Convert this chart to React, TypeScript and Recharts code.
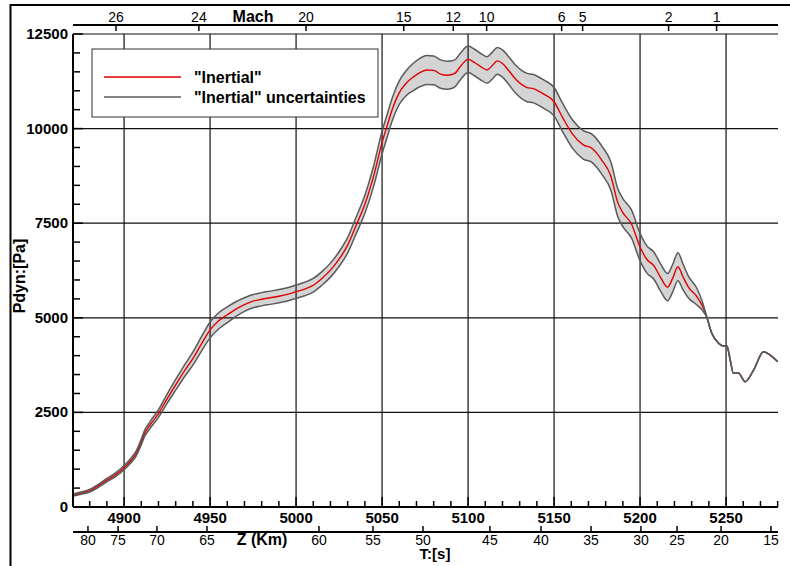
import { ComposedChart, Area, Line, XAxis, YAxis, ReferenceLine } from 'recharts';

const FONT = '"Liberation Sans", Arial, Helvetica, sans-serif';

// T:[s] sample times and dynamic pressure
const times = [
  4870.5, 4875, 4880, 4885, 4890, 4895, 4900, 4904, 4907, 4910,
  4912, 4915, 4920, 4925, 4930, 4935, 4940, 4945, 4950, 4955,
  4960, 4965, 4970, 4975, 4980, 4985, 4990, 4995, 5000, 5005,
  5010, 5015, 5020, 5025, 5030, 5035, 5040, 5045, 5050, 5053,
  5056, 5060, 5064, 5068, 5072, 5076, 5080, 5084, 5088, 5092,
  5096, 5100, 5104, 5108, 5111, 5114, 5117, 5120, 5123, 5128,
  5134, 5138, 5144, 5150, 5155, 5161, 5167, 5172, 5178, 5183,
  5187, 5190, 5195, 5200, 5204, 5208, 5212, 5216, 5219, 5222,
  5225, 5228, 5233, 5236, 5238.5, 5241.7, 5245.6, 5248, 5250.5, 5252.4,
  5254.3, 5257.2, 5261.1, 5266, 5271.8, 5276, 5280,
];

const pdyn = [
  317, 365, 430, 560, 710, 850, 1040, 1230, 1410, 1720,
  1950, 2160, 2470, 2860, 3230, 3590, 3920, 4310, 4680, 4920,
  5080, 5230, 5350, 5440, 5490, 5530, 5570, 5620, 5690, 5760,
  5860, 6040, 6260, 6550, 6920, 7450, 8000, 8730, 9630, 10080,
  10520, 10950, 11200, 11360, 11480, 11550, 11540, 11440, 11410, 11450,
  11670, 11830, 11740, 11620, 11550, 11660, 11790, 11720, 11570, 11290,
  11090, 11055, 10910, 10710, 10290, 9840, 9570, 9480, 9150, 8750,
  8050, 7780, 7480, 6870, 6540, 6380, 6060, 5810, 6050, 6350,
  6080, 5820, 5560, 5330, 5060, 4590, 4330, 4260, 4255, 3885,
  3533, 3541, 3312, 3620, 4104, 4000, 3840,
];

// half width of the grey uncertainty band
const pdynUncertainty = [
  25, 30, 35, 40, 45, 50, 55, 60, 65, 75,
  80, 90, 100, 120, 140, 155, 170, 190, 210, 215,
  210, 195, 180, 175, 175, 175, 175, 175, 176, 178,
  180, 180, 185, 195, 205, 220, 240, 270, 300, 300,
  300, 310, 330, 360, 375, 385, 380, 375, 370, 360,
  350, 350, 350, 350, 350, 355, 355, 360, 365, 370,
  375, 375, 375, 375, 375, 375, 375, 375, 375, 372,
  370, 370, 370, 365, 360, 360, 360, 360, 365, 370,
  340, 290, 220, 120, 20, 0, 0, 0, 0, 0,
  0, 0, 0, 0, 0, 0, 0,
];

const timeMajorTicks = [4900, 4950, 5000, 5050, 5100, 5150, 5200, 5250];
const timeTicks = [
  4880, 4890, 4900, 4910, 4920, 4930, 4940, 4950, 4960, 4970,
  4980, 4990, 5000, 5010, 5020, 5030, 5040, 5050, 5060, 5070,
  5080, 5090, 5100, 5110, 5120, 5130, 5140, 5150, 5160, 5170,
  5180, 5190, 5200, 5210, 5220, 5230, 5240, 5250, 5260, 5270, 5280,
];
const pdynMajorTicks = [0, 2500, 5000, 7500, 10000, 12500];
const pdynTicks = [
  0, 500, 1000, 1500, 2000, 2500, 3000, 3500, 4000, 4500,
  5000, 5500, 6000, 6500, 7000, 7500, 8000, 8500, 9000, 9500,
  10000, 10500, 11000, 11500, 12000, 12500,
];

// Mach numbers along the top, placed at the time they were reached
const machTickTimes = [4895.3, 4943.5, 5005.8, 5062.6, 5091.4, 5110.8, 5154.4, 5166.6, 5216.6, 5244.5];
const machLabels = ['26', '24', '20', '15', '12', '10', '6', '5', '2', '1'];

// altitude Z (Km) along the bottom
const altTickTimes = [
  4879.0, 4896.5, 4919.1, 4948.2, 5013.3, 5044.7, 5073.8,
  5112.7, 5142.4, 5171.5, 5200.5, 5221.5, 5247.1, 5276.1,
];
const altLabels = ['80', '75', '70', '65', '60', '55', '50', '45', '40', '35', '30', '25', '20', '15'];

const T_DOMAIN = [4870.3, 5280.2];

const data = times.map((t, i) => ({
  t,
  pdyn: pdyn[i],
  low: pdyn[i] - pdynUncertainty[i],
  high: pdyn[i] + pdynUncertainty[i],
  band: [pdyn[i] - pdynUncertainty[i], pdyn[i] + pdynUncertainty[i]],
}));

const TimeTick = ({ x, y, payload }: any) => {
  const major = timeMajorTicks.includes(payload.value);
  return (
    <g>
      <line x1={x} x2={x} y1={y} y2={y - (major ? 10 : 6)} stroke="#000" strokeWidth={1.5} />
      {major && (
        <text x={x} y={y + 16} textAnchor="middle" fontSize={15} fontWeight="bold" fontFamily={FONT} fill="#000">
          {payload.value}
        </text>
      )}
    </g>
  );
};

const PdynTick = ({ x, y, payload }: any) => {
  const major = pdynMajorTicks.includes(payload.value);
  return (
    <g>
      <line x1={x} x2={x + (major ? 10 : 7)} y1={y} y2={y} stroke="#000" strokeWidth={1.5} />
      {major && (
        <text x={x - 5} y={y + 5} textAnchor="end" fontSize={15} fontWeight="bold" fontFamily={FONT} fill="#000">
          {payload.value}
        </text>
      )}
    </g>
  );
};

const MachTick = ({ x, y, index }: any) => (
  <g>
    <line x1={x} x2={x} y1={y} y2={y + 6} stroke="#000" strokeWidth={1.5} />
    <text x={x} y={y - 3} textAnchor="middle" fontSize={14} fontFamily={FONT} fill="#000">
      {machLabels[index]}
    </text>
  </g>
);

const AltTick = ({ x, y, index }: any) => (
  <g>
    <line x1={x} x2={x} y1={y} y2={y - 6} stroke="#000" strokeWidth={1.5} />
    <text x={x} y={y + 13} textAnchor="middle" fontSize={14} fontFamily={FONT} fill="#000">
      {altLabels[index]}
    </text>
  </g>
);

const titleStyle = { fontFamily: FONT, fontWeight: 'bold' as const, fontSize: 16, fill: '#000' };

export default function App() {
  return (
    <div style={{ position: 'absolute', left: 0, top: 0, width: 790, height: 566, overflow: 'hidden', background: '#fff' }}>
      <ComposedChart width={790} height={566} data={data} margin={{ top: 0, right: 12, bottom: 0, left: 13 }}>
        <XAxis
          xAxisId="mach"
          orientation="top"
          type="number"
          dataKey="t"
          domain={T_DOMAIN}
          height={25}
          ticks={machTickTimes}
          interval={0}
          tickSize={0}
          tickMargin={0}
          tickLine={false}
          axisLine={{ stroke: '#000', strokeWidth: 2 }}
          tick={<MachTick />}
        />
        <XAxis xAxisId="a0spacer" orientation="top" type="number" dataKey="t" domain={T_DOMAIN} height={9} axisLine={false} tickLine={false} tick={false} />
        <XAxis
          type="number"
          dataKey="t"
          domain={T_DOMAIN}
          allowDataOverflow
          height={25}
          ticks={timeTicks}
          interval={0}
          tickSize={0}
          tickMargin={0}
          tickLine={false}
          axisLine={{ stroke: '#000', strokeWidth: 2 }}
          tick={<TimeTick />}
        />
        <XAxis
          xAxisId="alt"
          type="number"
          dataKey="t"
          domain={T_DOMAIN}
          height={34}
          ticks={altTickTimes}
          interval={0}
          tickSize={0}
          tickMargin={0}
          tickLine={false}
          axisLine={{ stroke: '#000', strokeWidth: 2 }}
          tick={<AltTick />}
        />
        <YAxis
          type="number"
          domain={[0, 12500]}
          width={60}
          ticks={pdynTicks}
          interval={0}
          tickSize={0}
          tickMargin={0}
          tickLine={false}
          axisLine={{ stroke: '#000', strokeWidth: 2 }}
          tick={<PdynTick />}
        />
        <Area dataKey="band" type="monotone" fill="#d4d4d4" fillOpacity={1} stroke="none" isAnimationActive={false} />
        {timeMajorTicks.map((v) => (
          <ReferenceLine key={'x' + v} x={v} stroke="#111" strokeWidth={1.2} />
        ))}
        {pdynMajorTicks.slice(1).map((v) => (
          <ReferenceLine key={'y' + v} y={v} stroke="#111" strokeWidth={1.2} />
        ))}
        <Line dataKey="pdyn" type="monotone" stroke="#e00000" strokeWidth={1.4} dot={false} isAnimationActive={false} />
        <Line dataKey="low" type="monotone" stroke="#5a5a5a" strokeWidth={1.5} dot={false} isAnimationActive={false} />
        <Line dataKey="high" type="monotone" stroke="#5a5a5a" strokeWidth={1.5} dot={false} isAnimationActive={false} />
      </ComposedChart>

      <svg width={790} height={566} style={{ position: 'absolute', left: 0, top: 0, pointerEvents: 'none' }}>
        <line x1={10} y1={5} x2={790} y2={5} stroke="#000" strokeWidth={2} />
        <line x1={10.5} y1={4} x2={10.5} y2={566} stroke="#000" strokeWidth={2} />
        <text x={253} y={22} textAnchor="middle" style={titleStyle}>Mach</text>
        <text x={262} y={545} textAnchor="middle" style={titleStyle}>Z (Km)</text>
        <text x={435} y={559} textAnchor="middle" style={{ ...titleStyle, fontSize: 15 }}>T:[s]</text>
        <text transform="translate(25 276) rotate(-90)" textAnchor="middle" style={titleStyle}>Pdyn:[Pa]</text>
        <rect x={92} y={49} width={286} height={68} fill="#fff" stroke="#333" strokeWidth={1} />
        <line x1={104} x2={181} y1={77} y2={77} stroke="#e00000" strokeWidth={1.4} />
        <line x1={104} x2={181} y1={97} y2={97} stroke="#5a5a5a" strokeWidth={1.5} />
        <text x={194} y={83} style={titleStyle}>"Inertial"</text>
        <text x={194} y={103} style={titleStyle}>"Inertial" uncertainties</text>
      </svg>
    </div>
  );
}
